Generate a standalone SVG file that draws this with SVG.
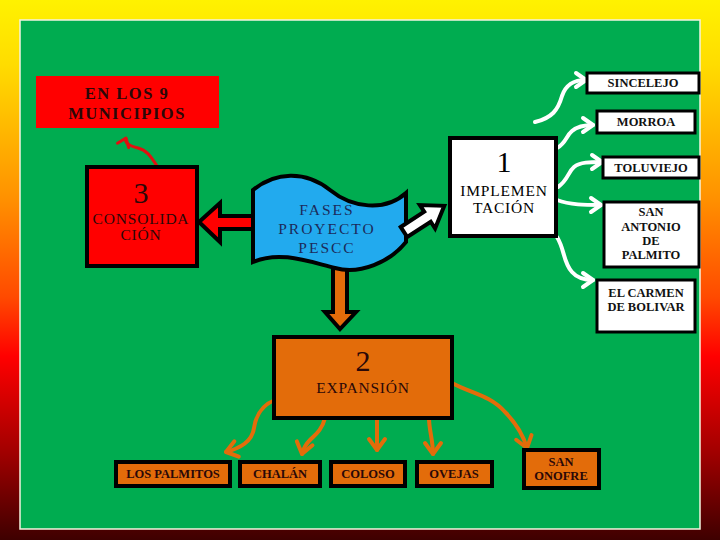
<svg xmlns="http://www.w3.org/2000/svg" width="720" height="540" viewBox="0 0 720 540">
<defs>
<linearGradient id="bg" x1="0" y1="0" x2="0" y2="1">
<stop offset="0" stop-color="#FFF200"/>
<stop offset="0.12" stop-color="#FFDC00"/>
<stop offset="0.37" stop-color="#FF9000"/>
<stop offset="0.55" stop-color="#FF4A00"/>
<stop offset="0.66" stop-color="#FF0000"/>
<stop offset="0.84" stop-color="#A00000"/>
<stop offset="1" stop-color="#3E0000"/>
</linearGradient>
<marker id="mw" markerUnits="userSpaceOnUse" markerWidth="30" markerHeight="30" viewBox="-15 -15 30 30" refX="0" refY="0" orient="auto">
<path d="M-10,-7 L0,0 L-10,7" fill="none" stroke="#fff" stroke-width="4" stroke-linecap="round" stroke-linejoin="round"/>
</marker>
<marker id="mo" markerUnits="userSpaceOnUse" markerWidth="30" markerHeight="30" viewBox="-15 -15 30 30" refX="0" refY="0" orient="auto">
<path d="M-11,-8 L0,0 L-11,8" fill="none" stroke="#E36C0A" stroke-width="4" stroke-linecap="round" stroke-linejoin="round"/>
</marker>
<marker id="mr" markerUnits="userSpaceOnUse" markerWidth="30" markerHeight="30" viewBox="-15 -15 30 30" refX="0" refY="0" orient="auto">
<path d="M-8,-6 L0,0 L-8,6" fill="none" stroke="#E01010" stroke-width="3" stroke-linecap="round" stroke-linejoin="round"/>
</marker>
</defs>
<style>
text{font-family:"Liberation Serif","Times New Roman",serif;text-anchor:middle;fill:#2a0808}
.big{font-size:30px}
.mid{font-size:15.5px;letter-spacing:0.8px}
.town{font-size:12.5px;font-weight:bold;fill:#111}
.otown{font-size:12.5px;font-weight:bold;fill:#2a0808}
.fases{font-size:15.5px;letter-spacing:2px;fill:#1c2a5a}
.wbox{fill:#fff;stroke:#000;stroke-width:3}
.obox{fill:#E36C0A;stroke:#000;stroke-width:4}
.wc{fill:none;stroke:#fff;stroke-width:4;stroke-linecap:round;marker-end:url(#mw)}
.oc{fill:none;stroke:#E36C0A;stroke-width:4;stroke-linecap:round;marker-end:url(#mo)}
</style>
<rect x="0" y="0" width="720" height="540" fill="url(#bg)"/>
<rect x="20" y="20" width="680" height="509" fill="#00AC50" stroke="#F4F4E0" stroke-width="1.5"/>

<g id="connectors">
<path d="M157,166 C150,155 146,150 138,148 C130,146 124,143 126,138" fill="none" stroke="#E01010" stroke-width="3" marker-end="url(#mr)"/>
<polygon points="199,222 220,203 220,216 256,216 256,229 220,229 220,242" fill="#FF0000" stroke="#000" stroke-width="4"/>
<polygon points="333,268 347,268 347,312 356,312 340,329 325,312 333,312" fill="#E36C0A" stroke="#000" stroke-width="4"/>
<path class="wc" d="M535,122 C552,118 558,110 562,96 C566,84 574,80 586,80"/>
<path class="wc" d="M557,148 C566,143 566,136 572,131 C578,126 585,125 593,125"/>
<path class="wc" d="M558,187 C568,180 568,172 574,167 C580,162 590,162 602,162"/>
<path class="wc" d="M557,200 C570,205 585,205 601,205"/>
<path class="wc" d="M557,237 C565,250 563,262 572,272 C578,279 586,280 593,280"/>
<path class="oc" d="M275,400 C262,405 256,415 254,428 C252,442 240,448 226,452"/>
<path class="oc" d="M325,418 C322,430 315,435 310,440 C305,445 303,450 302,454"/>
<path class="oc" d="M377,418 L377,450"/>
<path class="oc" d="M429,418 C429,430 433,440 433,454"/>
<path class="oc" d="M452,383 C470,393 490,395 505,412 C518,425 524,438 527,448"/>
</g>

<g id="n-municipios">
<rect x="36" y="76" width="183" height="52" fill="#FF0000"/>
<text x="127" y="99" style="font-size:16.5px;font-weight:bold;letter-spacing:1.5px">EN LOS  9</text>
<text x="127" y="119" style="font-size:16.5px;font-weight:bold;letter-spacing:1.5px">MUNICIPIOS</text>
</g>

<g id="n-consolidacion">
<rect x="87" y="167" width="110" height="99" fill="#FF0000" stroke="#000" stroke-width="4"/>
<text class="big" x="141" y="203">3</text>
<text class="mid" x="141" y="224">CONSOLIDA</text>
<text class="mid" x="141" y="240">CIÓN</text>
</g>

<g id="n-fases">
<path d="M253,190 C275,172 305,170 330,190 C352,208 385,212 406,193 L406,242 C390,262 360,275 335,268 C310,262 280,250 253,262 Z" fill="#22AAEE" stroke="#000" stroke-width="4"/>
<text class="fases" x="327" y="215">FASES</text>
<text class="fases" x="327" y="234">PROYECTO</text>
<text class="fases" x="327" y="253">PESCC</text>
</g>

<g id="arrow-impl">
<polygon transform="translate(404,232) rotate(-33)" points="0,-6 28,-6 28,-14 48,0 28,14 28,6 0,6" fill="#fff" stroke="#000" stroke-width="4"/>
</g>

<g id="n-implementacion">
<rect x="450" y="138" width="106" height="98" fill="#fff" stroke="#000" stroke-width="4"/>
<text class="big" x="504" y="172" style="fill:#000">1</text>
<text class="mid" x="504" y="196" style="fill:#000">IMPLEMEN</text>
<text class="mid" x="504" y="213" style="fill:#000">TACIÓN</text>
</g>

<g id="n-sincelejo"><rect class="wbox" x="587" y="73" width="112" height="20"/><text class="town" x="643" y="87">SINCELEJO</text></g>
<g id="n-morroa"><rect class="wbox" x="597" y="111" width="98" height="22"/><text class="town" x="646" y="126">MORROA</text></g>
<g id="n-toluviejo"><rect class="wbox" x="603" y="157" width="96" height="21"/><text class="town" x="651" y="172">TOLUVIEJO</text></g>
<g id="n-sanantonio"><rect class="wbox" x="604" y="202" width="95" height="65"/>
<text class="town" x="651" y="216">SAN</text><text class="town" x="651" y="231">ANTONIO</text><text class="town" x="651" y="245">DE</text><text class="town" x="651" y="259">PALMITO</text></g>
<g id="n-elcarmen"><rect class="wbox" x="597" y="280" width="98" height="52"/>
<text class="town" x="646" y="297">EL CARMEN</text><text class="town" x="646" y="311">DE BOLIVAR</text></g>

<g id="n-expansion">
<rect x="274" y="337" width="178" height="81" fill="#E36C0A" stroke="#000" stroke-width="4"/>
<text class="big" x="363" y="371">2</text>
<text class="mid" x="363" y="393">EXPANSIÓN</text>
</g>

<g id="n-lospalmitos"><rect class="obox" x="116" y="462" width="114" height="24"/><text class="otown" x="173" y="478">LOS PALMITOS</text></g>
<g id="n-chalan"><rect class="obox" x="240" y="462" width="80" height="24"/><text class="otown" x="280" y="478">CHALÁN</text></g>
<g id="n-coloso"><rect class="obox" x="331" y="462" width="74" height="24"/><text class="otown" x="368" y="478">COLOSO</text></g>
<g id="n-ovejas"><rect class="obox" x="417" y="462" width="75" height="24"/><text class="otown" x="454" y="478">OVEJAS</text></g>
<g id="n-sanonofre"><rect class="obox" x="524" y="450" width="75" height="38"/><text class="otown" x="561" y="466">SAN</text><text class="otown" x="561" y="480">ONOFRE</text></g>
</svg>
